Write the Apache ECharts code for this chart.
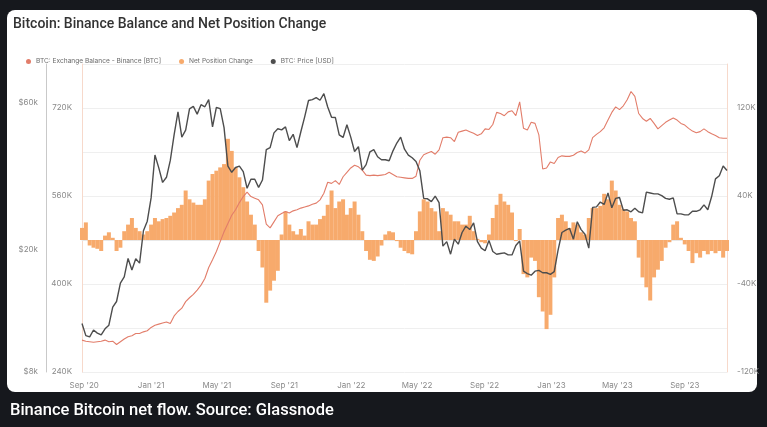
<!DOCTYPE html>
<html><head><meta charset="utf-8">
<script src="https://cdn.jsdelivr.net/npm/echarts@6/dist/echarts.min.js"></script>
<style>html,body{margin:0;padding:0;background:#16181d;}#c{width:767px;height:427px;}</style>
</head><body><div id="c"></div>
<script>
// weekly samples starting 2020-08-28
const startYear = 2020, startMonth = 7, startDay = 28, stepDays = 7;

// BTC price, USD
const price = [
11500,10500,10400,10950,10700,10550,11050,11350,13000,13550,15550,16300,18700,17150,18650,18050,23000,24700,
29400,40500,36800,33000,34300,38900,47200,55900,46300,48800,57200,58300,55000,59000,58100,61300,50000,57800,57300,49700,37300,35600,36900,37300,35800,31600,33800,33800,31800,33600,42200,42800,47800,49300,48900,50000,45100,47300,42800,48200,53900,60900,61300,62200,61000,64100,58000,53700,53600,47100,46200,50800,46300,
41600,43100,36200,37700,41500,42200,40000,39100,39100,38800,41800,44300,46300,42300,40500,39700,38600,36000,29300,29200,28600,29800,28400,20500,21200,19300,21600,20800,22700,23800,23200,24400,21200,20200,19800,21400,19700,19300,19400,19500,19200,19200,20600,21300,17000,16700,16500,17000,17100,16800,16800,16600,
16950,19900,22700,23100,23400,21600,24600,23200,22400,20200,27400,27500,28500,28000,30500,27300,29300,29500,26800,26900,26500,27200,26500,26300,30700,30500,30300,30300,29900,29300,29100,29400,26100,26100,25900,25900,26600,26600,26900,27900,26900,29700,33900,34700,37300,36100
];

// Binance exchange balance, thousand BTC
const balance = [
298,296,295,294,295,296,298,295,296,290,295,300,304,306,310,310,313,315,321,325,327,329,331,328,342,350,356,368,375,381,389,398,410,430,444,459,477,495,510,525,535,548,559,567,
559,556,553,544,509,502,513,524,528,532,529,533,535,538,540,542,545,547,553,565,585,583,588,581,595,603,611,616,613,607,598,597,598,597,598,599,603,599,595,594,593,592,
592,596,625,635,638,641,636,644,666,667,666,659,676,678,680,677,674,670,673,682,681,690,712,710,706,713,715,706,731,683,680,694,692,671,609,611,622,619,630,633,632,632,
634,639,642,638,644,666,672,677,684,698,712,722,717,724,735,750,741,710,701,696,701,692,682,688,694,698,702,698,692,689,683,678,675,677,682,677,673,670,666,665,665
];

// Net position change, thousand BTC
const netChange = [
11,16,-5,-7,-8,-10,4,7,2,-10,-7,8,14,20,11,8,5,8,14,20,17,19,20,22,25,29,32,45,37,34,32,32,37,54,60,63,66,69,92,81,66,57,48,35,
23,14,-10,-25,-57,-46,-37,-28,5,26,14,8,5,10,4,17,14,14,19,22,32,45,29,35,37,23,29,35,23,8,-10,-18,-19,-15,-5,5,8,7,-1,-7,-10,-12,
-13,8,26,37,35,29,26,8,29,26,23,17,17,14,14,22,8,1,-2,-3,5,20,32,42,35,32,25,-1,10,-31,-34,-16,-19,-52,-65,-81,-68,-34,20,23,17,11,
16,14,7,5,20,29,29,31,42,37,54,45,32,28,26,20,17,-16,-34,-43,-55,-34,-27,-19,-7,-2,14,17,2,-4,-10,-21,-12,-16,-10,-13,-10,-12,-10,-16,-10
];

const xTickDates = [[2020,8],[2021,0],[2021,4],[2021,8],[2022,0],[2022,4],[2022,8],[2023,0],[2023,4],[2023,8]];
const xTickLabels = ["Sep '20","Jan '21","May '21","Sep '21","Jan '22","May '22","Sep '22","Jan '23","May '23","Sep '23"];
const priceTicks = [8000, 20000, 60000];
const priceTickLabels = ['$8k', '$20k', '$60k'];

const seriesNames = ['BTC: Exchange Balance - Binance [BTC]', 'Net Position Change', 'BTC: Price [USD]'];
const colBalance = '#e27d6a', colNet = '#f7aa6c', colPrice = '#4d4d4d';

// x positions in days since the first sample (UTC based, so no DST drift)
const DAY = 86400000;
const t0 = Date.UTC(startYear, startMonth, startDay);
const days = price.map((_, i) => i * stepDays);
const tickDays = xTickDates.map(d => Math.round((Date.UTC(d[0], d[1], 1) - t0) / DAY));
const pair = arr => arr.map((v, i) => [days[i], v]);

const chart = echarts.init(document.getElementById('c'));
const axisFont = { fontSize: 8, color: '#8a8a8a', fontFamily: 'Inter, Roboto, sans-serif' };

chart.setOption({
  backgroundColor: '#16181d',
  animation: false,
  graphic: [
    { type: 'rect', z: -10, silent: true, shape: { x: 7, y: 10, width: 750, height: 382, r: 8 }, style: { fill: '#ffffff' } },
    { type: 'text', left: 10, top: 402, style: { text: 'Binance Bitcoin net flow. Source: Glassnode', fill: '#ffffff', font: '500 16.5px Roboto, sans-serif' } }
  ],
  title: {
    text: 'Bitcoin: Binance Balance and Net Position Change',
    left: 8, top: 12,
    textStyle: { fontSize: 14, fontWeight: 500, color: '#333333', fontFamily: 'Roboto, sans-serif' }
  },
  legend: {
    left: 21, top: 53, icon: 'circle', itemWidth: 5, itemHeight: 5, itemGap: 18,
    textStyle: { fontSize: 6.6, color: '#6a6a6a', fontFamily: 'Inter, Roboto, sans-serif' },
    data: seriesNames
  },
  grid: { left: 82, right: 40, top: 64, bottom: 55, containLabel: false },
  xAxis: {
    type: 'value',
    min: days[0], max: days[days.length - 1],
    axisLine: { show: true, lineStyle: { color: '#e8e8e8' } },
    axisTick: { show: false },
    splitLine: { show: false },
    axisLabel: Object.assign({}, axisFont, {
      margin: 10,
      customValues: tickDays,
      formatter: v => { const i = tickDays.indexOf(Math.round(v)); return i >= 0 ? xTickLabels[i] : ''; }
    })
  },
  yAxis: [
    {
      type: 'value', position: 'left', min: 240, max: 800, interval: 80,
      axisLine: { show: true, lineStyle: { color: '#f7d9cb' } },
      axisTick: { show: false },
      splitLine: { show: true, lineStyle: { color: '#efefef' } },
      axisLabel: Object.assign({}, axisFont, { margin: 10, formatter: v => ((v - 240) % 160 === 0 ? v + 'K' : '') })
    },
    {
      type: 'log', position: 'left', offset: 36, min: 8000, max: 80000,
      axisLine: { show: true, lineStyle: { color: '#c9c9c9' } },
      axisTick: { show: false },
      splitLine: { show: false },
      axisLabel: Object.assign({}, axisFont, {
        margin: 8,
        customValues: priceTicks,
        formatter: v => { const i = priceTicks.indexOf(Math.round(v)); return i >= 0 ? priceTickLabels[i] : ''; }
      })
    },
    {
      type: 'value', position: 'right', min: -120, max: 160, interval: 40,
      axisLine: { show: true, lineStyle: { color: '#f7d9cb' } },
      axisTick: { show: false },
      splitLine: { show: false },
      axisLabel: Object.assign({}, axisFont, { margin: 10, formatter: v => ((v + 120) % 80 === 0 ? v + 'K' : '') })
    }
  ],
  series: [
    {
      name: seriesNames[1], type: 'bar', yAxisIndex: 2, z: 1,
      barWidth: 4,
      itemStyle: { color: colNet },
      data: pair(netChange)
    },
    {
      name: seriesNames[0], type: 'line', yAxisIndex: 0, z: 3, showSymbol: false,
      lineStyle: { color: colBalance, width: 1.1 }, itemStyle: { color: colBalance },
      data: pair(balance)
    },
    {
      name: seriesNames[2], type: 'line', yAxisIndex: 1, z: 4, showSymbol: false,
      lineStyle: { color: colPrice, width: 1.4 }, itemStyle: { color: colPrice },
      data: pair(price)
    }
  ]
});
</script></body></html>
